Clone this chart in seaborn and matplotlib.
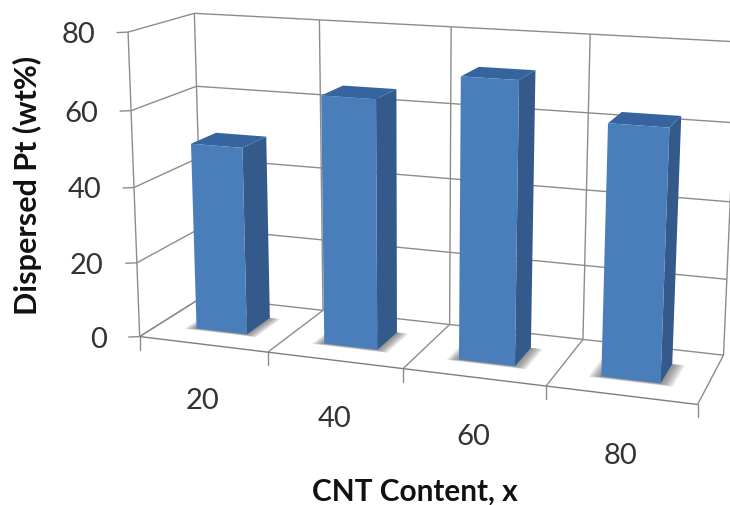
import numpy as np
import pandas as pd
import seaborn as sns
import matplotlib
matplotlib.use("Agg")
import matplotlib.pyplot as plt
from matplotlib.patches import Polygon
from matplotlib.transforms import Affine2D, Transform

categories = ["20", "40", "60", "80"]
dispersed_pt = [50, 65, 72, 63]
value_ticks = [0, 20, 40, 60, 80]

WIDTH, HEIGHT = 730, 505
BAR_WIDTH = 0.4
DEPTH_FRONT, DEPTH_BACK = 0.3, 0.7

# Reference points of the chart box: (category slot, depth, value) -> screen pixel.
# A 3x4 camera matrix is solved from them, so every mark goes through one projection.
anchors = np.array([
    (0, 0, 0, 142, 335), (0, 0, 80, 125, 33), (0, 1, 0, 199, 301), (0, 1, 80, 196, 14),
    (1, 0, 0, 268, 352), (2, 0, 0, 403, 368), (3, 0, 0, 545, 387), (4, 0, 0, 698, 407),
    (1, 1, 0, 323, 309), (2, 1, 0, 451, 322), (3, 1, 0, 582, 339), (4, 1, 0, 724, 355),
    (1, 1, 80, 320, 20), (2, 1, 80, 452, 27), (3, 1, 80, 592, 33), (4, 1, 80, 735, 42),
    (0, 0, 60, 130, 110), (0, 0, 40, 135, 187), (0, 0, 20, 138, 262),
], dtype=float)


def solve_camera(rows):
    eqs = []
    for x, y, z, u, v in rows:
        world = [x, y, z / 80.0, 1.0]
        eqs.append(world + [0, 0, 0, 0] + [-u * w for w in world])
        eqs.append([0, 0, 0, 0] + world + [-v * w for w in world])
    return np.linalg.svd(np.array(eqs))[2][-1].reshape(3, 4)


CAMERA = solve_camera(anchors)


def project(x, y, z):
    x, y, z = np.broadcast_arrays(np.asarray(x, float), np.asarray(y, float), np.asarray(z, float))
    world = np.stack([x, y, z / 80.0, np.ones_like(x)], axis=-1)
    img = world @ CAMERA.T
    return img[..., 0] / img[..., 2], img[..., 1] / img[..., 2]


class FacePlane(Transform):
    """Maps (bar position, value) on a plane of constant depth to display pixels."""
    input_dims = 2
    output_dims = 2

    def __init__(self, plane_depth):
        super().__init__()
        self.plane_depth = plane_depth

    def transform_non_affine(self, values):
        values = np.asarray(values, float)
        u, v = project(values[:, 0] + 0.5, self.plane_depth, values[:, 1])
        return np.column_stack([u, HEIGHT - v])


sns.set_theme(style="white")
plt.rcParams["font.family"] = ["Lato", "DejaVu Sans"]

fig = plt.figure(figsize=(WIDTH / 100, HEIGHT / 100), dpi=100, facecolor="white")
ax = fig.add_axes([0, 0, 1, 1])

frame = pd.DataFrame({"CNT": categories, "Pt": dispersed_pt})
sns.barplot(data=frame, x="CNT", y="Pt", color="#4A7EBB", saturation=1, width=BAR_WIDTH,
            ax=ax, zorder=5)
ax.set_ylim(0, 80)
ax.axis("off")

pixels = Affine2D().scale(1, -1).translate(0, HEIGHT)
GRID = "#8c8c8c"


def seg(p, q, color=GRID, lw=1.0, z=1):
    u, v = project(*np.array([p, q], float).T)
    ax.plot(u, v, color=color, lw=lw, transform=pixels, zorder=z, solid_capstyle="butt", clip_on=True)


def face(corners, color, z=4, alpha=1.0):
    u, v = project(*np.array(corners, float).T)
    ax.add_patch(Polygon(np.column_stack([u, v]), closed=True, facecolor=color, edgecolor="none",
                         transform=pixels, zorder=z, alpha=alpha))


# Walls and floor of the box
for val in value_ticks:
    seg((0, 0, val), (0, 1, val))
    seg((0, 1, val), (4, 1, val))
    u, v = project(0, 0, val)
    ax.plot([u - 11, u], [v + 0.5, v], color=GRID, lw=1.0, transform=pixels, zorder=1)
    ax.text(u - 33, v + 3, str(val), transform=pixels, ha="right", va="center",
            fontsize=21, color="#333333")
for slot in range(5):
    seg((slot, 0, 0), (slot, 1, 0))
    seg((slot, 1, 0), (slot, 1, 80))
    u, v = project(slot, 0, 0)
    ax.plot([u, u], [v, v + 13], color=GRID, lw=1.0, transform=pixels, zorder=1)
seg((0, 0, 0), (4, 0, 0), color="#7d7d7d")
seg((0, 0, 0), (0, 0, 80))

# Bars: seaborn's rectangles become the front faces, sides and tops follow from the same values
front_plane = FacePlane(DEPTH_FRONT)
for pos, (bar, label) in enumerate(zip(ax.patches, categories)):
    left = bar.get_x() + 0.5
    right = left + bar.get_width()
    top = bar.get_height()
    bar.set_transform(front_plane)
    bar.set_edgecolor("none")

    # soft contact shadow on the floor
    for step in range(1, 11):
        grow = step * 0.008
        face([(left - grow, DEPTH_FRONT - grow * 0.45, 0),
              (right + grow * 1.1, DEPTH_FRONT - grow * 0.45, 0),
              (right + grow * 1.1, DEPTH_BACK, 0),
              (left - grow, DEPTH_BACK, 0)], "#555555", z=2, alpha=0.09)

    face([(right, DEPTH_FRONT, 0), (right, DEPTH_BACK, 0), (right, DEPTH_BACK, top), (right, DEPTH_FRONT, top)],
         "#345A8C", z=4)
    face([(left, DEPTH_FRONT, top), (right, DEPTH_FRONT, top), (right, DEPTH_BACK, top), (left, DEPTH_BACK, top)],
         "#35649F", z=4)

    u, v = project((left + right) / 2, 0, 0)
    ax.text(u, v + 57 + 1.4 * pos, label, transform=pixels, ha="center", va="center",
            fontsize=21, color="#333333")

ax.text(414.5, 492, "CNT Content, x", transform=pixels, ha="center", va="center",
        fontsize=21.4, fontweight="bold", color="#111111")
ax.text(27, 185, "Dispersed Pt (wt%)", transform=pixels, ha="center", va="center", rotation=90,
        fontsize=22, fontweight="bold", color="#111111")

fig.savefig("out.png", dpi=100, facecolor="white")
